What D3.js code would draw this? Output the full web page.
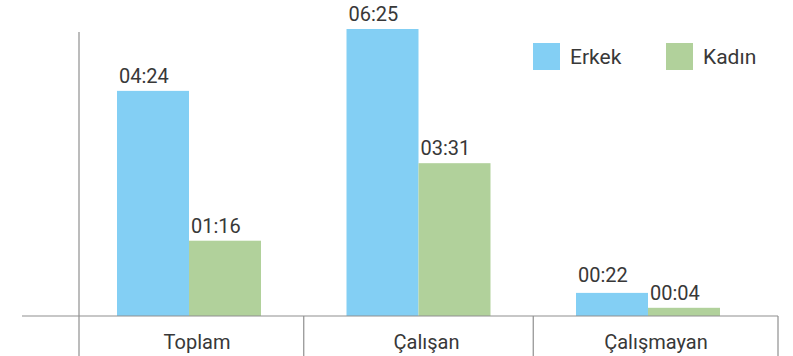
<!DOCTYPE html>
<html><head><meta charset="utf-8">
<script src="https://cdn.jsdelivr.net/npm/d3@7"></script>
<style>html,body{margin:0;padding:0;background:#fff;}svg{display:block;}</style>
</head><body><svg id="c" width="793" height="356"></svg>
<script>
const categories = ["Toplam", "Çalışan", "Çalışmayan"];
const seriesNames = ["Erkek", "Kadın"];
// bar heights as drawn in the picture (minutes scale)
const erkekValues = [302, 385, 31];
const kadinValues = [101, 205, 11];
const erkekLabels = ["04:24", "06:25", "00:22"];
const kadinLabels = ["01:16", "03:31", "00:04"];
const colors = ["#83CFF4", "#B1D19B"];

const svg = d3.select("#c");
const font = "Roboto, 'Open Sans', sans-serif";
const textColor = "#383838";
const axisColor = "#8f8f8f";
const baseY = 316;

const y = d3.scaleLinear().domain([0, 385]).range([baseY, 29]);
const xc = d3.scalePoint().domain(categories).range([189, 648]);
const xs = d3.scaleBand().domain(seriesNames).range([-72, 72]);

const series = [
  {name: "Erkek", values: erkekValues, labels: erkekLabels, color: colors[0]},
  {name: "Kadın", values: kadinValues, labels: kadinLabels, color: colors[1]}
];

// bars
series.forEach(s => {
  const g = svg.append("g");
  g.selectAll("rect").data(categories).join("rect")
    .attr("x", c => xc(c) + xs(s.name))
    .attr("y", (c, i) => y(s.values[i]))
    .attr("width", xs.bandwidth())
    .attr("height", (c, i) => baseY - y(s.values[i]))
    .attr("fill", s.color);
  g.selectAll("text").data(categories).join("text")
    .attr("x", c => xc(c) + xs(s.name) + 2)
    .attr("y", (c, i) => y(s.values[i]) - 8 - (s.name === "Erkek" && i === 2 ? 3 : 0))
    .attr("font-family", font).attr("font-size", 20)
    .attr("fill", textColor)
    .text((c, i) => s.labels[i]);
});

// axes
const left = 79, right = 778;
svg.append("line").attr("x1", 22).attr("x2", right).attr("y1", baseY).attr("y2", baseY)
  .attr("stroke", axisColor).attr("stroke-width", 1.2);
svg.append("line").attr("x1", left).attr("x2", left).attr("y1", 32).attr("y2", 356)
  .attr("stroke", axisColor).attr("stroke-width", 1.2);
const seps = [];
for (let i = 0; i < categories.length - 1; i++) seps.push((xc(categories[i]) + xc(categories[i + 1])) / 2);
seps.push(right);
svg.selectAll("line.sep").data(seps).join("line").attr("class", "sep")
  .attr("x1", d => d).attr("x2", d => d).attr("y1", baseY).attr("y2", 356)
  .attr("stroke", axisColor).attr("stroke-width", 1.2);

svg.selectAll("text.cat").data(categories).join("text").attr("class", "cat")
  .attr("x", c => xc(c) + 8).attr("y", 348.5)
  .attr("text-anchor", "middle")
  .attr("font-family", font).attr("font-size", 20)
  .attr("fill", textColor).text(c => c);

// legend
const leg = svg.append("g");
const legX = [533, 666];
series.forEach((s, i) => {
  leg.append("rect").attr("x", legX[i]).attr("y", 43).attr("width", 27).attr("height", 27).attr("fill", s.color);
  leg.append("text").attr("x", legX[i] + 37).attr("y", 63.5)
    .attr("font-family", font).attr("font-size", 21)
    .attr("fill", textColor).text(s.name);
});
</script></body></html>
